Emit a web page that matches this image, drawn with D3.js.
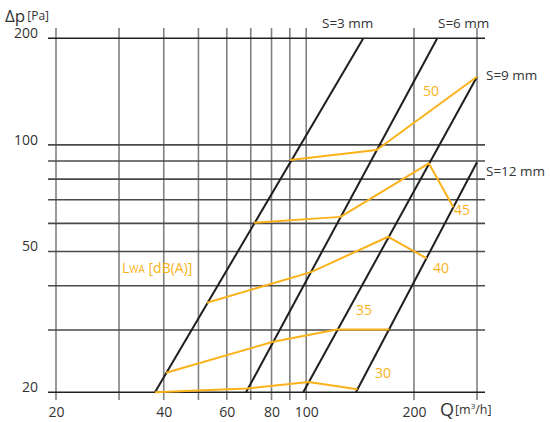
<!DOCTYPE html>
<html><head><meta charset="utf-8">
<script src="https://cdn.jsdelivr.net/npm/d3@7"></script>
<style>body{margin:0;background:#fff}svg{display:block;font-family:"Open Sans",sans-serif}</style>
</head><body>
<svg id="c" width="550" height="422"></svg>
<script>
// ---- data ----
const qGrid = [20,30,40,50,60,70,80,90,100,200,300];
const pGrid = [20,30,40,50,60,70,80,90,100,200];
const qTickLabels = [20,40,60,80,100,200];
const pTickLabels = [20,50,100,200];
// slot-height lines: [Q,p] endpoints
const slotNames = ["S=3 mm","S=6 mm","S=9 mm","S=12 mm"];
const slotLines = [
  [[37.8,20],[144.4,200]],
  [[67.9,20],[232.3,200]],
  [[98.1,20],[300,155.8]],
  [[137.7,20],[300,89.3]]
];
// sound power isolines LWA [dB(A)]
const lwaLevels = [50,45,40,35,30];
const lwaLines = [
  [[90.1,90.6],[157.3,96.7],[300,155.8]],
  [[71.5,60.3],[124.7,62.6],[220,88.7],[257.6,66.6]],
  [[52.8,35.8],[103.1,43.7],[169.5,55.0],[217,47.8]],
  [[40.6,22.7],[80.9,27.8],[121.9,30.1],[170.6,30.1]],
  [[37.8,20.0],[68.3,20.5],[101.5,21.4],[139.1,20.4]]
];

// ---- scales ----
const x = d3.scaleLog().domain([20,300]).range([56,477]);
const y = d3.scaleLog().domain([20,200]).range([392.3,38.3]);
const svg = d3.select("#c");
const orange = "#fbb21a";

// grid
svg.append("g").selectAll("line").data(qGrid).join("line")
  .attr("x1",d=>x(d)).attr("x2",d=>x(d)).attr("y1",28).attr("y2",400)
  .attr("stroke","#808080").attr("stroke-width",1.6);
svg.append("g").selectAll("line").data(pGrid).join("line")
  .attr("x1",48).attr("x2",485).attr("y1",d=>y(d)).attr("y2",d=>y(d))
  .attr("stroke",d=>(d===20||d===200)?"#222":"#4a4a4a").attr("stroke-width",1.6);

// axes (labels only)
const ax = svg.append("g").attr("transform","translate(0,392.3)")
  .call(d3.axisBottom(x).tickValues(qTickLabels).tickFormat(d3.format("d")).tickSize(0).tickPadding(15));
const ay = svg.append("g").attr("transform","translate(48,0)")
  .call(d3.axisLeft(y).tickValues(pTickLabels).tickFormat(d3.format("d")).tickSize(0).tickPadding(10));
[ax,ay].forEach(g=>{g.select(".domain").remove();
  g.selectAll("text").attr("font-family","Open Sans").attr("font-size",14).attr("fill","#333");});
ay.selectAll("text").attr("dy","-0.05em");

const line = d3.line().x(d=>x(d[0])).y(d=>y(d[1]));
// slot lines
svg.append("g").selectAll("path").data(slotLines).join("path")
  .attr("d",line).attr("fill","none").attr("stroke","#1e1e1e").attr("stroke-width",2);
// LWA lines
svg.append("g").selectAll("path").data(lwaLines).join("path")
  .attr("d",line).attr("fill","none").attr("stroke",orange).attr("stroke-width",2)
  .attr("stroke-linejoin","round");

// slot labels
const slotLabelPos = [[322,28],[438,28],[486,80],[486,176]];
svg.append("g").selectAll("text").data(slotNames).join("text")
  .attr("x",(d,i)=>slotLabelPos[i][0]).attr("y",(d,i)=>slotLabelPos[i][1])
  .attr("font-size",13.5).attr("fill","#333").text(d=>d);

// LWA labels
const lwaLabelPos = [[423,96],[454,215],[433,273],[356,315],[375,378]];
svg.append("g").selectAll("text").data(lwaLevels).join("text")
  .attr("x",(d,i)=>lwaLabelPos[i][0]).attr("y",(d,i)=>lwaLabelPos[i][1])
  .attr("font-size",14).attr("fill",orange).text(d=>d);

const lw = svg.append("text").attr("x",122).attr("y",273).attr("fill",orange).attr("font-size",14);
lw.append("tspan").text("L");
lw.append("tspan").attr("font-size",10).text("WA");
lw.append("tspan").text(" [dB(A)]");

// axis titles
const yt = svg.append("text").attr("x",5).attr("y",22).attr("fill","#333");
yt.append("tspan").attr("font-size",17).text("Δp");
yt.append("tspan").attr("font-size",12).attr("dx",2).attr("dy",-2).text("[Pa]");
const xt = svg.append("text").attr("x",440).attr("y",416).attr("fill","#333");
xt.append("tspan").attr("font-size",18).text("Q");
xt.append("tspan").attr("font-size",12.5).attr("dx",1).attr("dy",-2).text("[m");
xt.append("tspan").attr("font-size",8).attr("dy",-5).text("3");
xt.append("tspan").attr("font-size",12.5).attr("dy",5).text("/h]");
</script>
</body></html>
